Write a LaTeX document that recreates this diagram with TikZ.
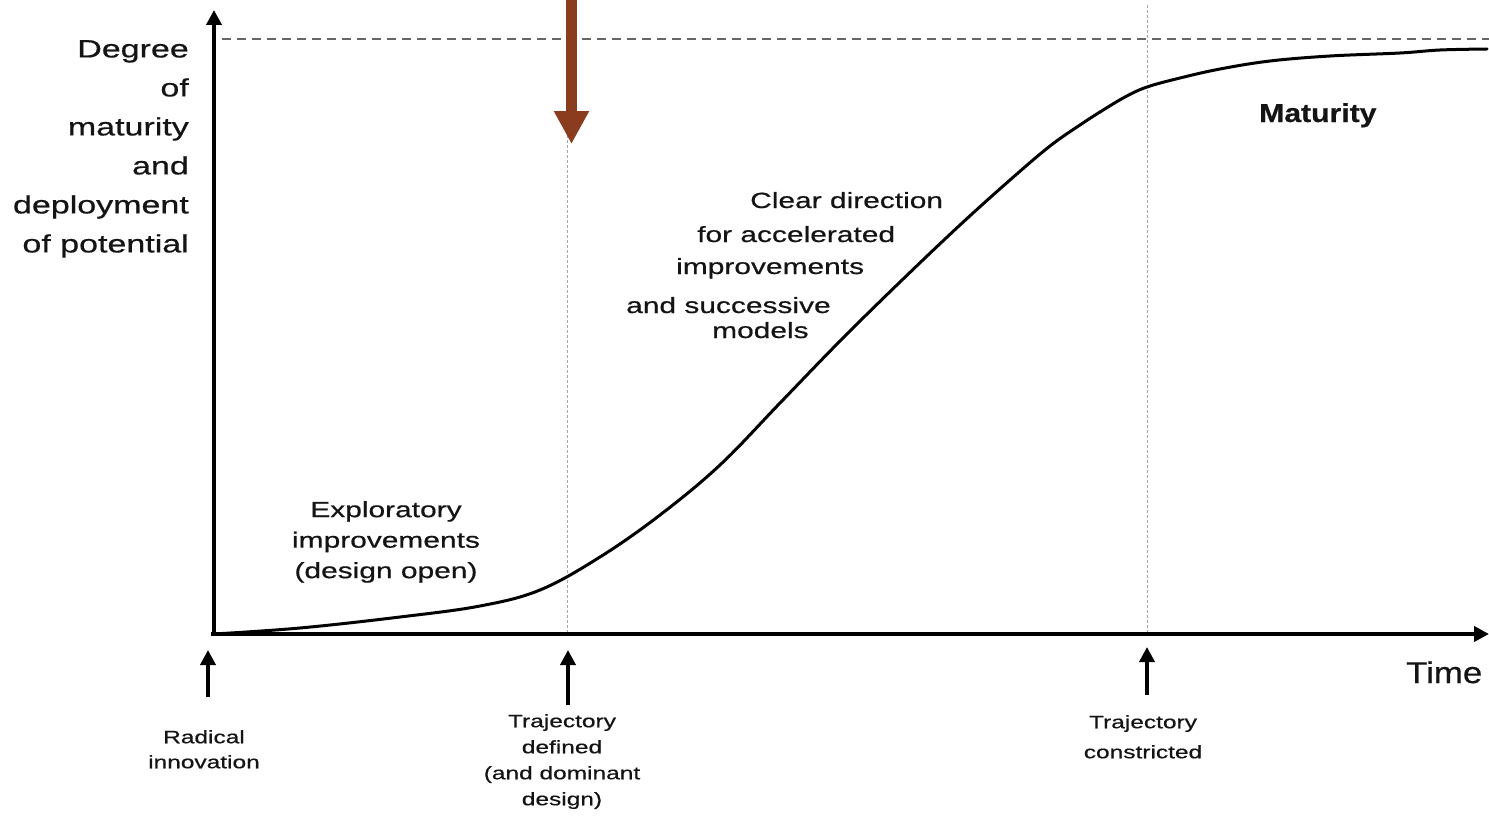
\documentclass[tikz,border=0pt]{standalone}
\usepackage{fontspec}
\setmainfont{Liberation Sans}
\newfontfamily\fA[FakeStretch=1.36,FakeBold=0.6]{Liberation Sans}
\newfontfamily\fB[FakeStretch=1.16,FakeBold=0.6]{Liberation Sans}
\usetikzlibrary{arrows.meta}
\definecolor{brownarrow}{RGB}{139,60,30}
\definecolor{txt}{RGB}{20,20,20}
\begin{document}
\begin{tikzpicture}[x=1pt,y=-1pt,
  axisline/.style={line width=4pt,-{Triangle[width=15pt,length=15pt]}},
  guide/.style={draw=black!35,line width=1pt,dash pattern=on 3pt off 2pt},
  topline/.style={draw=black!60,line width=1.6pt,dash pattern=on 9pt off 6pt},
  curve/.style={line width=3pt,line join=round,line cap=round},
  tickarrow/.style={line width=3.5pt,-{Triangle[width=15pt,length=15pt]}},
  bigarrow/.style={draw=brownarrow,line width=11pt,-{Triangle[width=33pt,length=33pt]}},
  lab/.style={inner sep=0pt,text=txt},
  ylab/.style={lab,font=\fA\fontsize{25}{39}\selectfont,align=right},
  mid/.style={lab,font=\fA\fontsize{22}{30.5}\selectfont},
  bot/.style={lab,font=\fA\fontsize{18}{25}\selectfont,align=center}]
\useasboundingbox (0,0) rectangle (1489,816);
% coordinates
\coordinate (O) at (214,634);
\coordinate (Ytip) at (214,10);
\coordinate (Xstart) at (211,634);
\coordinate (Xtip) at (1489,634);
\coordinate (D1top) at (567,0);
\coordinate (D1bot) at (567,634);
\coordinate (D2top) at (1147,5);
\coordinate (D2bot) at (1147,634);
\coordinate (Hl) at (222,39);
\coordinate (Hr) at (1489,39);
\coordinate (Bs) at (571.5,0);
\coordinate (Be) at (571.5,144);
\coordinate (A1s) at (208,697);
\coordinate (A1e) at (208,650);
\coordinate (A2s) at (568,705);
\coordinate (A2e) at (568,650);
\coordinate (A3s) at (1147,695);
\coordinate (A3e) at (1147,647);
% guides
\draw[guide] (D1top) -- (D1bot);
\draw[guide] (D2top) -- (D2bot);
\draw[topline] (Hl) -- (Hr);
% axes
\draw[axisline] (Xstart) -- (Xtip);
\draw[axisline] (O) ++(0,2) -- (Ytip);
% S-curve
\draw[curve] plot[smooth,tension=0.6] coordinates {
 (214,634) (300,628) (400,617) (480,606) (540,590) (600,557)
 (660,515) (720,465) (780,403) (840,341) (900,282) (960,225)
 (1010,180) (1050,146) (1080,125) (1100,112) (1125,97) (1147,87)
 (1180,78) (1220,69) (1270,61) (1330,56) (1400,53) (1440,50) (1487,49)};
% brown arrow
\draw[bigarrow] (Bs) -- (Be);
% tick arrows
\draw[tickarrow] (A1s) -- (A1e);
\draw[tickarrow] (A2s) -- (A2e);
\draw[tickarrow] (A3s) -- (A3e);
% labels
\node[ylab,anchor=north east] (ylabel) at (189,40)
  {Degree\\of\\maturity\\and\\deployment\\of potential};
\node[lab,anchor=base west,font=\fB\fontsize{30}{30}\selectfont] (time) at (1406,683) {Time};
\node[lab,anchor=base west,font=\fB\bfseries\fontsize{26}{26}\selectfont] (maturity) at (1259,122) {Maturity};
\node[mid,align=center,anchor=north] (explore) at (386,501)
  {Exploratory\\improvements\\(design open)};
\node[mid,anchor=base west] (c1) at (750,208) {Clear direction};
\node[mid,anchor=base west] (c2) at (697,242) {for accelerated};
\node[mid,anchor=base west] (c3) at (676,274) {improvements};
\node[mid,anchor=base west] (c4) at (626,313) {and successive};
\node[mid,anchor=base west] (c5) at (712,338) {models};
\node[bot,anchor=north] (radical) at (204,730) {Radical\\innovation};
\node[bot,anchor=north,font=\fA\fontsize{18}{26}\selectfont] (trajdef) at (562,714)
  {Trajectory\\defined\\(and dominant\\design)};
\node[bot,anchor=north,font=\fA\fontsize{18}{30}\selectfont] (trajcon) at (1143,715)
  {Trajectory\\constricted};
\end{tikzpicture}
\end{document}
